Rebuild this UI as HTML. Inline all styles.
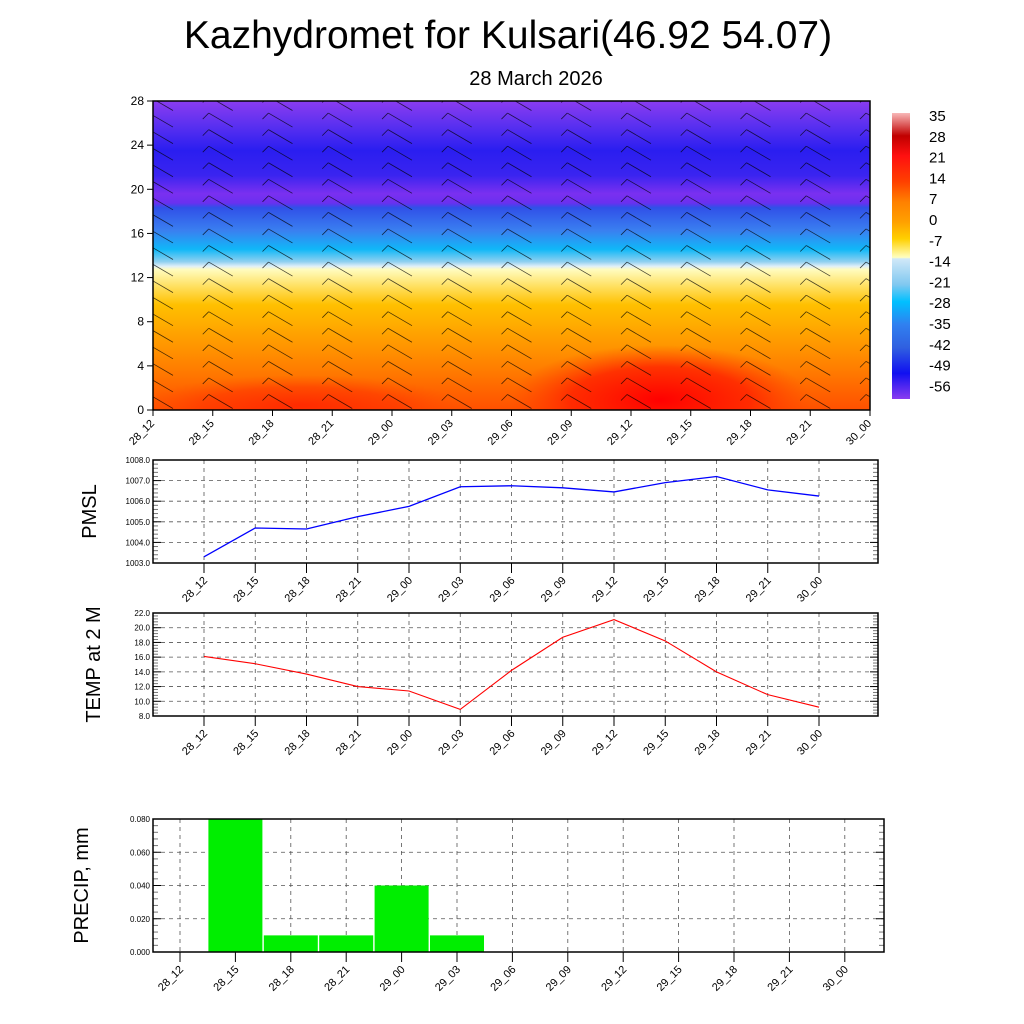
<!DOCTYPE html>
<html><head><meta charset="utf-8"><style>
html,body{margin:0;padding:0;background:#fff;}
svg{display:block;font-family:"Liberation Sans",sans-serif;}
</style></head><body>
<svg id="s" width="1024" height="1024" viewBox="0 0 1024 1024" xmlns="http://www.w3.org/2000/svg">
<defs>
<linearGradient id="tg" x1="0" y1="0" x2="0" y2="1">
<stop offset="0" stop-color="#8a3cf0"/>
<stop offset="0.08" stop-color="#5a30f0"/>
<stop offset="0.16" stop-color="#2a1ef0"/>
<stop offset="0.24" stop-color="#3a24f0"/>
<stop offset="0.30" stop-color="#7a30f0"/>
<stop offset="0.33" stop-color="#6a30f0"/>
<stop offset="0.345" stop-color="#3050e8"/>
<stop offset="0.42" stop-color="#3a80f0"/>
<stop offset="0.48" stop-color="#10b8f8"/>
<stop offset="0.52" stop-color="#90d0f0"/>
<stop offset="0.535" stop-color="#e0f0f8"/>
<stop offset="0.545" stop-color="#fffcc0"/>
<stop offset="0.60" stop-color="#ffe060"/>
<stop offset="0.66" stop-color="#ffc000"/>
<stop offset="0.76" stop-color="#ffa000"/>
<stop offset="0.86" stop-color="#ff8000"/>
<stop offset="0.95" stop-color="#ff6000"/>
<stop offset="1" stop-color="#ff5000"/>
</linearGradient>
<linearGradient id="cb" x1="0" y1="0" x2="0" y2="1">
<stop offset="0" stop-color="#f8b8b8"/>
<stop offset="0.08" stop-color="#c00000"/>
<stop offset="0.15" stop-color="#ff1010"/>
<stop offset="0.24" stop-color="#ff4000"/>
<stop offset="0.31" stop-color="#ff8000"/>
<stop offset="0.38" stop-color="#ffa000"/>
<stop offset="0.44" stop-color="#ffd000"/>
<stop offset="0.505" stop-color="#ffffc0"/>
<stop offset="0.51" stop-color="#d0e8f8"/>
<stop offset="0.6" stop-color="#80c8f0"/>
<stop offset="0.66" stop-color="#00c0ff"/>
<stop offset="0.74" stop-color="#3080f0"/>
<stop offset="0.82" stop-color="#3060e0"/>
<stop offset="0.91" stop-color="#1010f0"/>
<stop offset="1" stop-color="#8a3cf0"/>
</linearGradient>
<radialGradient id="hot" cx="0.5" cy="0.5" r="0.5">
<stop offset="0" stop-color="#ff0000"/>
<stop offset="0.6" stop-color="#ff2000" stop-opacity="0.8"/>
<stop offset="1" stop-color="#ff4000" stop-opacity="0"/>
</radialGradient>
<clipPath id="cp"><rect x="153" y="101" width="717" height="309"/></clipPath>
</defs>
<text x="508" y="48" font-size="39" text-anchor="middle">Kazhydromet for Kulsari(46.92 54.07)</text>
<text x="536" y="85" font-size="20" text-anchor="middle">28 March 2026</text>
<g>
<rect x="153" y="101" width="717" height="309" fill="url(#tg)"/>
<g clip-path="url(#cp)">
<ellipse cx="660" cy="400" rx="150" ry="55" fill="url(#hot)"/>
<ellipse cx="300" cy="405" rx="160" ry="30" fill="url(#hot)" opacity="0.5"/>
<g id="barbs" stroke="#000" stroke-width="0.8" opacity="0.7"></g>
</g>
<rect x="153" y="101" width="717" height="309" fill="none" stroke="#000" stroke-width="1.5"/>
<g id="topax"></g>
</g>
<g>
<rect x="892" y="113" width="18" height="286" fill="url(#cb)"/>
<g id="cbl" font-size="15"></g>
</g>
<g id="pmsl"></g>
<g id="temp"></g>
<g id="prec"></g>
</svg>
<script>
const categories=["28_12","28_15","28_18","28_21","29_00","29_03","29_06","29_09","29_12","29_15","29_18","29_21","30_00"];
const pmslValues=[1003.3,1004.7,1004.65,1005.25,1005.75,1006.7,1006.75,1006.65,1006.45,1006.9,1007.2,1006.55,1006.25];
const pmslTicks=[1003,1004,1005,1006,1007,1008];
const tempValues=[16.1,15.1,13.7,12.0,11.4,8.9,14.2,18.7,21.1,18.2,14.0,10.9,9.2];
const tempTicks=[8,10,12,14,16,18,20,22];
const precipValues=[0,0.08,0.01,0.01,0.04,0.01,0,0,0,0,0,0,0];
const precipTicks=[0,0.02,0.04,0.06,0.08];
const heightTicks=[0,4,8,12,16,20,24,28];
const colorbarLabels=["35","28","21","14","7","0","-7","-14","-21","-28","-35","-42","-49","-56"];
const NS="http://www.w3.org/2000/svg";
function mk(p,t,a,txt){const e=document.createElementNS(NS,t);for(const k in a)e.setAttribute(k,a[k]);if(txt!==undefined)e.textContent=txt;p.appendChild(e);return e;}
const topAx=document.getElementById('topax');
const tx=i=>153+i*(717/12), ty=v=>410-v*(309/28);
heightTicks.forEach(v=>{const y=ty(v);mk(topAx,'line',{x1:147,x2:153,y1:y,y2:y,stroke:'#000'});
const t=mk(topAx,'text',{x:144,y:y+4,'font-size':12,'text-anchor':'end'},v);

});
categories.forEach((c,i)=>{const x=tx(i);mk(topAx,'line',{x1:x,x2:x,y1:410,y2:416,stroke:'#000'});
const t=mk(topAx,'text',{transform:`translate(${x+2},${424}) rotate(-45)`,'font-size':11,'text-anchor':'end'},c);

});
const bg=document.getElementById('barbs');
for(let i=0;i<=12;i++)for(let v=0.5;v<28;v+=1.5){const x=tx(i)+2,y=ty(v);
mk(bg,'line',{x1:x-6,y1:y-10,x2:x+18,y2:y+4});mk(bg,'line',{x1:x-6,y1:y-10,x2:x-12,y2:y-4});}
const cbl=document.getElementById('cbl');
colorbarLabels.forEach((l,i)=>{const t=mk(cbl,'text',{x:929,y:121+i*20.8},l);

});
function panel(id,x0,x1,y0,y1,ticks,fmt,label,xs,lx){
const g=document.getElementById(id);
const lo=ticks[0],hi=ticks[ticks.length-1];
const ys=v=>y1-(v-lo)/(hi-lo)*(y1-y0);
ticks.forEach(v=>{const y=ys(v);
if(v>lo&&v<hi)mk(g,'line',{x1:x0,x2:x1,y1:y,y2:y,stroke:'#555','stroke-dasharray':'4,4','stroke-width':0.8});
mk(g,'line',{x1:x0,x2:x0+8,y1:y,y2:y,stroke:'#000'});mk(g,'line',{x1:x1-8,x2:x1,y1:y,y2:y,stroke:'#000'});
const t=mk(g,'text',{x:x0-3,y:y+3,'font-size':8,'text-anchor':'end'},fmt(v));

});
const n=(ticks.length-1)*5;
for(let k=1;k<n;k++){if(k%5==0)continue;const y=y1-k*(y1-y0)/n;
mk(g,'line',{x1:x0,x2:x0+5,y1:y,y2:y,stroke:'#777'});mk(g,'line',{x1:x1-5,x2:x1,y1:y,y2:y,stroke:'#777'});}
categories.forEach((c,i)=>{const x=xs(i);
mk(g,'line',{x1:x,x2:x,y1:y0,y2:y1,stroke:'#555','stroke-dasharray':'4,4','stroke-width':0.8});
mk(g,'line',{x1:x,x2:x,y1:y1,y2:y1+10,stroke:'#000'});
const t=mk(g,'text',{transform:`translate(${x+4},${y1+18}) rotate(-45)`,'font-size':11,'text-anchor':'end'},c);

});
const yl=mk(g,'text',{transform:`translate(${lx},${(y0+y1)/2}) rotate(-90)`,'font-size':20,'text-anchor':'middle'},label);


return {g,ys,fr:()=>{const f=mk(g,'rect',{x:x0,y:y0,width:x1-x0,height:y1-y0,fill:'none',stroke:'#000','stroke-width':1.5});

}};
}
const lxs=i=>204+i*51.25;
const P=panel('pmsl',153,878,460,563,pmslTicks,v=>v.toFixed(1),'PMSL',lxs,96);
const pl=mk(P.g,'polyline',{points:pmslValues.map((v,i)=>lxs(i)+','+P.ys(v)).join(' '),fill:'none',stroke:'#0000ff','stroke-width':1.3});


P.fr();
const T=panel('temp',153,878,613,716,tempTicks,v=>v.toFixed(1),'TEMP at 2 M',lxs,100);
const tl=mk(T.g,'polyline',{points:tempValues.map((v,i)=>lxs(i)+','+T.ys(v)).join(' '),fill:'none',stroke:'#ff0000','stroke-width':1.1});


T.fr();
const pxs=i=>180+i*55.4;
const R=panel('prec',153,884,819,952,precipTicks,v=>v.toFixed(3),'PRECIP, mm',pxs,88);
precipValues.forEach((v,i)=>{if(v<=0)return;const y=R.ys(v);
const b=mk(R.g,'rect',{x:pxs(i)-27,y:y,width:54,height:952-y,fill:'#00ee00'});

});
R.fr();
</script>
</body></html>
